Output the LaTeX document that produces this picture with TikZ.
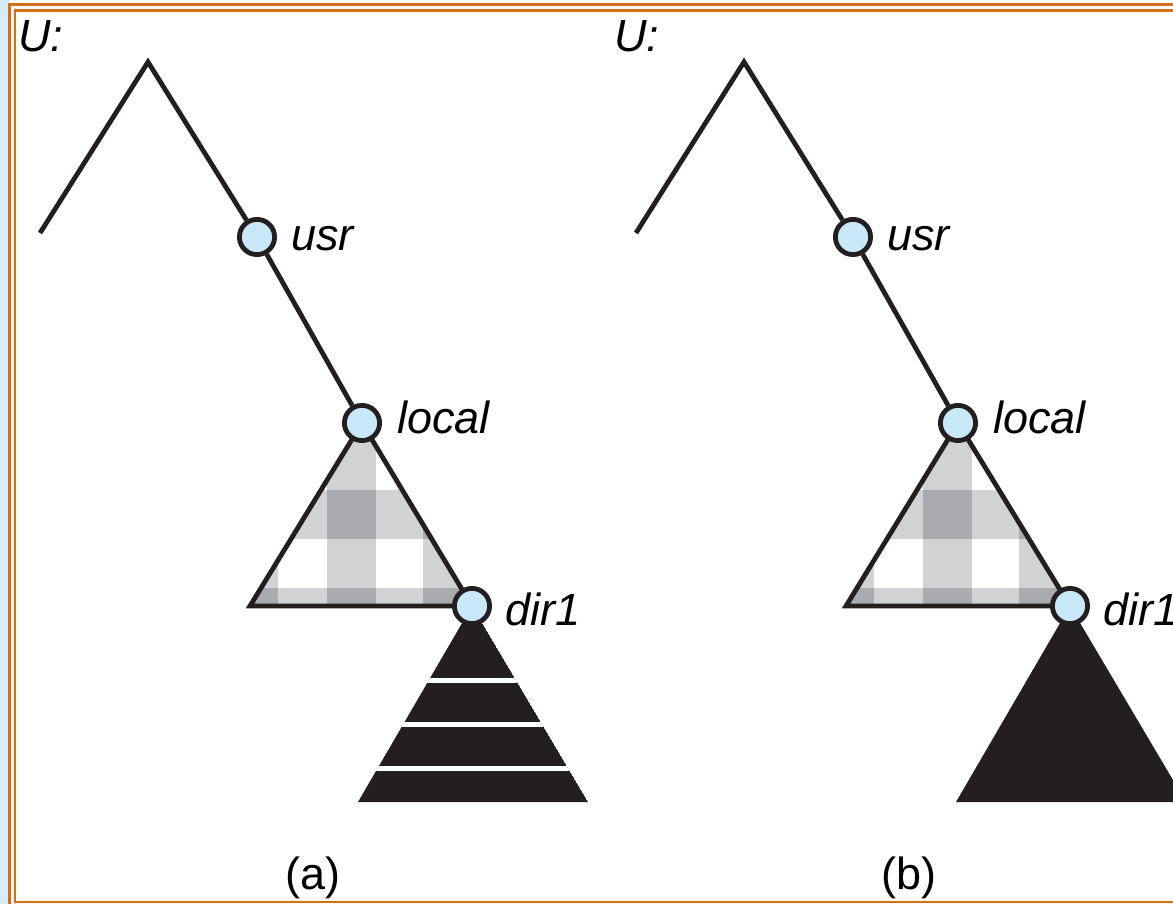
\documentclass[tikz,border=0pt]{standalone}
\usepackage{fontspec}
\setmainfont{Liberation Sans}
\usetikzlibrary{backgrounds}

\definecolor{frameorange}{RGB}{214,110,22}
\definecolor{stripblue}{RGB}{214,236,251}
\definecolor{nodeblue}{RGB}{200,232,248}
\definecolor{lightcheck}{RGB}{208,210,211}
\definecolor{darkcheck}{RGB}{169,171,174}
\definecolor{inkblack}{RGB}{35,31,32}

\begin{document}
\begin{tikzpicture}[x=0.5pt, y=-0.5pt,
    branch/.style={draw=inkblack, line width=2.4pt},
    dirnode/.style={circle, draw=inkblack, line width=2.4pt, fill=nodeblue, minimum size=17.6pt, inner sep=0pt},
    dirlabel/.style={anchor=base west, inner sep=0pt, font=\fontsize{22.5}{26}\selectfont\itshape},
    caption/.style={anchor=base, inner sep=0pt, font=\fontsize{22.5}{26}\selectfont},
    frameline/.style={draw=frameorange, line width=1.25pt}]

    \useasboundingbox (0,0) rectangle (1173,904);
    \begin{scope}[on background layer]
        \fill[white] (0,0) rectangle (1173,904);
        \fill[stripblue] (0,0) rectangle (9.5,904);
        \fill[stripblue!50] (9.5,10.5) rectangle (15,904);
        \draw[frameline] (9.5,910) -- (9.5,4.5) -- (1180,4.5);
        \draw[frameline] (1180,10.5) -- (15,10.5) -- (15,902) -- (1180,902);
    \end{scope}

    % (a) the subtree below dir1 is still there, hidden by the mount
    \coordinate (leftA) at (40,233);
    \coordinate (rootA) at (148,62);
    \coordinate (cornerA) at (250,606);
    \coordinate (baseLA) at (358,802);
    \coordinate (baseRA) at (588,802);
    \node[dirnode] (usrA) at (257,237) {};
    \node[dirnode] (localA) at (362,423) {};
    \node[dirnode] (dirA) at (472,606) {};
    \begin{scope}[on background layer]
        \draw[branch] (leftA) -- (rootA) -- (usrA);
        \draw[branch] (usrA) -- (localA);
        \begin{scope}
            \clip (localA.center) -- (cornerA) -- (dirA.center) -- cycle;
            \fill[white] (200,400) rectangle (500,640);
            \foreach \cx in {229,327,423}
                \fill[lightcheck] (\cx,400) rectangle ++(49,240);
            \foreach \ry in {490,588}
                \fill[lightcheck] (200,\ry) rectangle ++(300,49);
            \foreach \cx in {229,327,423}
                \foreach \ry in {490,588}
                    \fill[darkcheck] (\cx,\ry) rectangle ++(49,49);
        \end{scope}
        \draw[branch] (localA.center) -- (cornerA) -- (dirA.center) -- cycle;
        \begin{scope}
            \clip (dirA.center) -- (baseLA) -- (baseRA) -- cycle;
            \fill[inkblack] (dirA.center) -- (baseLA) -- (baseRA) -- cycle;
            \foreach \ry in {680,724,768}
                \draw[white, line width=2.5pt] (300,\ry) -- (650,\ry);
        \end{scope}
    \end{scope}
    \node[dirlabel] (rootAlabel) at (18,52) {U:};
    \node[dirlabel] (usrAlabel) at ([shift={(34,13)}]usrA.center) {usr};
    \node[dirlabel] (localAlabel) at ([shift={(35,10)}]localA.center) {local};
    \node[dirlabel] (dirAlabel) at ([shift={(33,19)}]dirA.center) {dir1};
    \node[caption] (capA) at (313,889) {(a)};

    % (b) the mounted volume covers dir1
    \begin{scope}[shift={(596,0)}]
        \coordinate (leftB) at (40,233);
        \coordinate (rootB) at (148,62);
        \coordinate (cornerB) at (250,606);
        \coordinate (baseLB) at (360,802);
        \coordinate (baseRB) at (590,802);
        \node[dirnode] (usrB) at (257,237) {};
        \node[dirnode] (localB) at (362,423) {};
        \node[dirnode] (dirB) at (474,606) {};
        \begin{scope}[on background layer]
            \draw[branch] (leftB) -- (rootB) -- (usrB);
            \draw[branch] (usrB) -- (localB);
            \begin{scope}
                \clip (localB.center) -- (cornerB) -- (dirB.center) -- cycle;
                \fill[white] (200,400) rectangle (500,640);
                \foreach \cx in {229,327,423}
                    \fill[lightcheck] (\cx,400) rectangle ++(49,240);
                \foreach \ry in {490,588}
                    \fill[lightcheck] (200,\ry) rectangle ++(300,49);
                \foreach \cx in {229,327,423}
                    \foreach \ry in {490,588}
                        \fill[darkcheck] (\cx,\ry) rectangle ++(49,49);
            \end{scope}
            \draw[branch] (localB.center) -- (cornerB) -- (dirB.center) -- cycle;
            \fill[inkblack] (dirB.center) -- (baseLB) -- (baseRB) -- cycle;
        \end{scope}
        \node[dirlabel] (rootBlabel) at (18,52) {U:};
        \node[dirlabel] (usrBlabel) at ([shift={(34,13)}]usrB.center) {usr};
        \node[dirlabel] (localBlabel) at ([shift={(35,10)}]localB.center) {local};
        \node[dirlabel] (dirBlabel) at ([shift={(33,19)}]dirB.center) {dir1};
        \node[caption] (capB) at (313,889) {(b)};
    \end{scope}
\end{tikzpicture}
\end{document}
